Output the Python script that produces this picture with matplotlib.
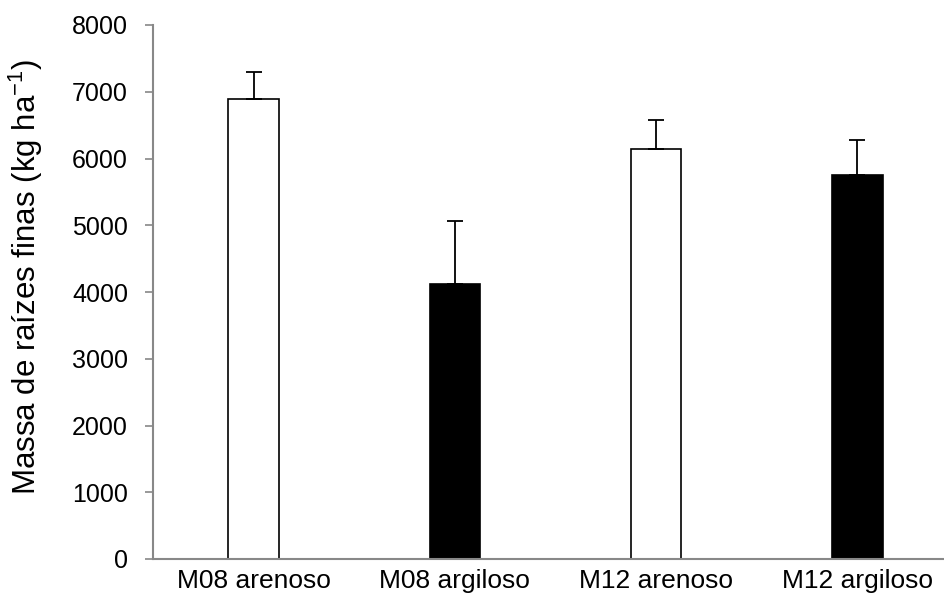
import numpy as np
import matplotlib
matplotlib.use("Agg")
import matplotlib.pyplot as plt

plt.rcParams['font.family'] = ['Liberation Sans', 'DejaVu Sans']

# Massa de raízes finas por tratamento
categorias = ["M08 arenoso", "M08 argiloso", "M12 arenoso", "M12 argiloso"]
medias = [6886, 4121, 6138, 5759]
erros = [415, 949, 444, 524]
cores = ["white", "black", "white", "black"]

fig = plt.figure(figsize=(9.45, 6.08), dpi=100)
ax = fig.add_axes([153 / 945, 49 / 608, 805 / 945, 534 / 608])

x = np.arange(len(categorias))
ax.bar(x, medias, width=0.25, color=cores, edgecolor="black", linewidth=1.2, zorder=2)
# barras de erro só para cima
ax.errorbar(x, medias, yerr=[np.zeros(len(erros)), erros], fmt="none",
            ecolor="black", elinewidth=1.3, capsize=6, capthick=1.3, zorder=3)

ax.set_xlim(-0.5, 3.5)
ax.set_ylim(0, 8000)
ax.set_yticks(np.arange(0, 8001, 1000))
ax.set_xticks(x)
ax.set_xticklabels(categorias, fontsize=19)
ax.tick_params(axis="y", labelsize=18, length=6, width=1.2, color="#888888", pad=12)
ax.tick_params(axis="x", length=0, pad=7)

for lado in ["top", "right"]:
    ax.spines[lado].set_visible(False)
for lado in ["left", "bottom"]:
    ax.spines[lado].set_color("#888888")
    ax.spines[lado].set_linewidth(1.5)
    ax.spines[lado].set_zorder(4)

ax.set_ylabel("Massa de raízes finas (kg ha$^{\\mathregular{-1}}$)", fontsize=22.5)
ax.yaxis.set_label_coords((45 - 153) / 805, 0.528)

fig.savefig("out.png", dpi=100)
